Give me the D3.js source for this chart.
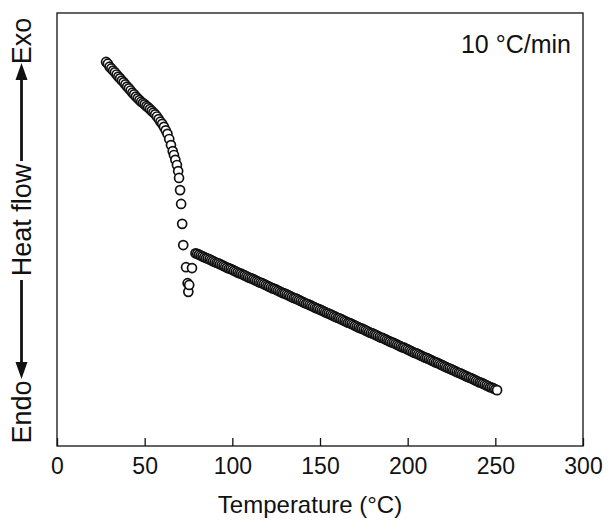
<!DOCTYPE html>
<html>
<head>
<meta charset="utf-8">
<script src="https://cdn.jsdelivr.net/npm/d3@7"></script>
<style>
  body { margin: 0; background: #fff; }
  text { font-family: "Liberation Sans", Arial, sans-serif; }
</style>
</head>
<body>
<svg id="chart" width="608" height="522"></svg>
<script>
// DSC curve, heat flow in arbitrary units
const rampTemp = [28, 29, 30, 31, 32, 33, 34, 35, 36, 37, 38, 39, 40, 41, 42, 43, 44, 45, 46, 47,
  48, 49, 50, 51, 52, 53, 54, 55, 56, 57, 58, 59, 60, 61, 62, 63, 64, 65, 66]
const rampFlow = [88.7, 88.3, 87.6, 87.2, 86.7, 86.3, 85.8, 85.3, 84.9, 84.4, 84.0, 83.5, 83.0, 82.6,
  82.1, 81.6, 81.2, 80.7, 80.3, 79.9, 79.5, 79.2, 78.9, 78.5, 78.2, 77.8, 77.4, 77.0, 76.6, 76.1,
  75.5, 74.9, 74.4, 73.7, 72.9, 72.1, 70.9, 69.5, 68.1]

// melting dip
const dipTemp = [66.7, 67.5, 68.4, 69.1, 69.6, 70.2, 70.8, 71.4, 72.0, 73.6, 74.5, 74.9, 75.4, 77.0]
const dipFlow = [67.2, 66.1, 64.9, 63.5, 61.9, 59.1, 55.9, 51.3, 46.4, 41.3, 37.6, 35.6, 37.2, 41.1]

// after the transition
const tailTemp = [79, 80, 81, 82, 83, 84, 85, 86, 87, 88, 89, 90, 91, 92, 93, 94, 95, 96, 97, 98, 99,
  100, 101, 102, 103, 104, 105, 106, 107, 108, 109, 110, 111, 112, 113, 114, 115, 116, 117, 118, 119,
  120, 121, 122, 123, 124, 125, 126, 127, 128, 129, 130, 131, 132, 133, 134, 135, 136, 137, 138, 139,
  140, 141, 142, 143, 144, 145, 146, 147, 148, 149, 150, 151, 152, 153, 154, 155, 156, 157, 158, 159,
  160, 161, 162, 163, 164, 165, 166, 167, 168, 169, 170, 171, 172, 173, 174, 175, 176, 177, 178, 179,
  180, 181, 182, 183, 184, 185, 186, 187, 188, 189, 190, 191, 192, 193, 194, 195, 196, 197, 198, 199,
  200, 201, 202, 203, 204, 205, 206, 207, 208, 209, 210, 211, 212, 213, 214, 215, 216, 217, 218, 219,
  220, 221, 222, 223, 224, 225, 226, 227, 228, 229, 230, 231, 232, 233, 234, 235, 236, 237, 238, 239,
  240, 241, 242, 243, 244, 245, 246, 247, 248, 249, 250, 251]
const tailFlow = [44.5, 44.4, 44.2, 44.0, 43.8, 43.6, 43.4, 43.3, 43.1, 42.9, 42.7, 42.5, 42.3, 42.2,
  42.0, 41.8, 41.6, 41.4, 41.2, 41.0, 40.9,
  40.7, 40.5, 40.3, 40.1, 39.9, 39.8, 39.6, 39.4, 39.2, 39.0, 38.8, 38.7, 38.5, 38.3, 38.1, 37.9, 37.7,
  37.6, 37.4, 37.2,
  37.0, 36.8, 36.6, 36.4, 36.3, 36.1, 35.9, 35.7, 35.5, 35.3, 35.2, 35.0, 34.8, 34.6, 34.4, 34.2, 34.1,
  33.9, 33.7, 33.5,
  33.3, 33.1, 32.9, 32.8, 32.6, 32.4, 32.2, 32.0, 31.8, 31.7, 31.5, 31.3, 31.1, 30.9, 30.7, 30.6, 30.4,
  30.2, 30.0, 29.8,
  29.6, 29.5, 29.3, 29.1, 28.9, 28.7, 28.5, 28.4, 28.2, 28.0, 27.8, 27.6, 27.4, 27.2, 27.1, 26.9, 26.7,
  26.5, 26.3, 26.1,
  26.0, 25.8, 25.6, 25.4, 25.2, 25.0, 24.9, 24.7, 24.5, 24.3, 24.1, 23.9, 23.8, 23.6, 23.4, 23.2, 23.0,
  22.8, 22.7, 22.5,
  22.3, 22.1, 21.9, 21.7, 21.5, 21.4, 21.2, 21.0, 20.8, 20.6, 20.4, 20.3, 20.1, 19.9, 19.7, 19.5, 19.3,
  19.2, 19.0, 18.8,
  18.6, 18.4, 18.2, 18.0, 17.9, 17.7, 17.5, 17.3, 17.1, 16.9, 16.8, 16.6, 16.4, 16.2, 16.0, 15.8, 15.7,
  15.5, 15.3, 15.1,
  14.9, 14.7, 14.6, 14.4, 14.2, 14.0, 13.8, 13.6, 13.5, 13.3, 13.1, 12.9]

const xTicks = [0, 50, 100, 150, 200, 250, 300]
const rateLabel = "10 °C/min"

const temps = rampTemp.concat(dipTemp, tailTemp)
const flows = rampFlow.concat(dipFlow, tailFlow)
const data = temps.map((t, i) => ({ t: t, f: flows[i] }))

// frame of the plot
const margin = { left: 57, right: 25, top: 13, bottom: 76 }
const svgWidth = 608
const svgHeight = 522
const width = svgWidth - margin.left - margin.right
const height = svgHeight - margin.top - margin.bottom

const svg = d3.select("#chart")
const g = svg.append("g").attr("transform", `translate(${margin.left},${margin.top})`)

const xScale = d3.scaleLinear().domain([0, 300]).range([0, width])
const yScale = d3.scaleLinear().domain([0, 100]).range([height, 0])

// x axis with inward ticks
const xAxis = d3.axisBottom(xScale).tickValues(xTicks).tickSizeInner(-8).tickSizeOuter(0).tickPadding(12)
g.append("g")
  .attr("transform", `translate(0,${height})`)
  .call(xAxis)
  .call(a => a.select(".domain").remove())
  .call(a => a.selectAll(".tick line").attr("stroke", "#111").attr("stroke-width", 1.3))
  .call(a => a.selectAll(".tick text")
    .attr("font-size", 23)
    .attr("fill", "#111")
    .attr("font-family", "Liberation Sans, Arial, sans-serif"))

// box
g.append("rect")
  .attr("x", 0).attr("y", 0)
  .attr("width", width).attr("height", height)
  .attr("fill", "none")
  .attr("stroke", "#111")
  .attr("stroke-width", 1.3)

// markers
g.selectAll(".pt")
  .data(data)
  .join("circle")
  .attr("class", "pt")
  .attr("cx", d => xScale(d.t))
  .attr("cy", d => yScale(d.f))
  .attr("r", 4.5)
  .attr("fill", "#fff")
  .attr("stroke", "#111")
  .attr("stroke-width", 1.7)

// rate label
g.append("text")
  .attr("x", width - 12)
  .attr("y", 40)
  .attr("text-anchor", "end")
  .attr("font-size", 25)
  .attr("fill", "#111")
  .text(rateLabel)

// x title
svg.append("text")
  .attr("x", 310)
  .attr("y", 513)
  .attr("text-anchor", "middle")
  .attr("font-size", 24)
  .attr("fill", "#111")
  .text("Temperature (°C)")

// y title: Endo <— Heat flow —> Exo, rotated
const yl = svg.append("g").attr("transform", "translate(31,0) rotate(-90)")
const yFont = 27
yl.append("text").attr("x", -412).attr("y", 0).attr("text-anchor", "middle")
  .attr("font-size", yFont).attr("fill", "#111").text("Endo")
yl.append("text").attr("x", -220).attr("y", 0).attr("text-anchor", "middle")
  .attr("font-size", yFont).attr("fill", "#111").text("Heat flow")
yl.append("text").attr("x", -41).attr("y", 0).attr("text-anchor", "middle")
  .attr("font-size", yFont).attr("fill", "#111").text("Exo")

const midY = -9.5
// down arrow (towards Endo)
yl.append("line").attr("x1", -280).attr("x2", -364).attr("y1", midY).attr("y2", midY)
  .attr("stroke", "#111").attr("stroke-width", 2.8)
yl.append("path")
  .attr("d", `M${-379},${midY} L${-362},${midY - 6} L${-362},${midY + 6} Z`)
  .attr("fill", "#111")
// up arrow (towards Exo)
yl.append("line").attr("x1", -161).attr("x2", -78).attr("y1", midY).attr("y2", midY)
  .attr("stroke", "#111").attr("stroke-width", 2.8)
yl.append("path")
  .attr("d", `M${-63},${midY} L${-80},${midY - 6} L${-80},${midY + 6} Z`)
  .attr("fill", "#111")
</script>
</body>
</html>
